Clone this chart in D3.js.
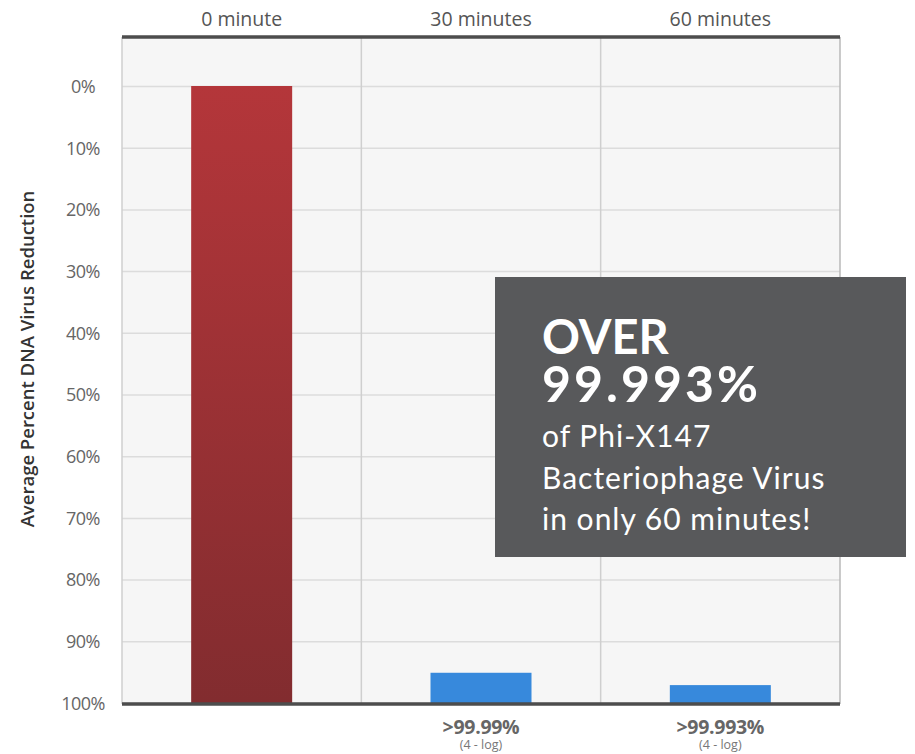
<!DOCTYPE html>
<html>
<head>
<meta charset="utf-8">
<script src="https://cdn.jsdelivr.net/npm/d3@7"></script>
<style>
  body { margin: 0; background: #fff; }
  text { font-family: "Open Sans", sans-serif; }
</style>
</head>
<body>
<svg id="chart" width="915" height="754"></svg>
<script>
// data
var categories = ["0 minute", "30 minutes", "60 minutes"];
var barTop = [0, 95.1, 97.1];               // where each bar starts on the reduction axis (%)
var barColors = ["red", "blue", "blue"];
var bottomLabels = ["", ">99.99%", ">99.993%"];
var bottomSubLabels = ["", "(4 - log)", "(4 - log)"];
var yTicks = [0, 10, 20, 30, 40, 50, 60, 70, 80, 90, 100];
var calloutLines = ["OVER", "99.993%"];
var calloutSub = ["of Phi-X147", "Bacteriophage Virus", "in only 60 minutes!"];

var margin = {top: 37, right: 75, bottom: 50, left: 122},
    width = 915 - margin.left - margin.right,
    height = 704 - margin.top;

var svg = d3.select("#chart");

var x = d3.scaleBand()
    .domain(categories)
    .range([margin.left, margin.left + width])
    .padding(0);

var y = d3.scaleLinear()
    .domain([0, 100])
    .range([86, 703]);

var barWidth = 101;

var defs = svg.append("defs");
var redGrad = defs.append("linearGradient")
    .attr("id", "redGrad")
    .attr("x1", 0).attr("y1", 0).attr("x2", 0).attr("y2", 1);
redGrad.append("stop").attr("offset", "0%").attr("stop-color", "#b4363a");
redGrad.append("stop").attr("offset", "100%").attr("stop-color", "#822c2f");

var fills = {red: "url(#redGrad)", blue: "#3789dc"};

// plot background
svg.append("rect")
    .attr("x", margin.left)
    .attr("y", margin.top)
    .attr("width", width)
    .attr("height", height)
    .attr("fill", "#f6f6f6");

// horizontal grid
svg.append("g")
    .attr("class", "grid")
  .selectAll("line")
    .data(yTicks)
  .enter().append("line")
    .attr("x1", margin.left)
    .attr("x2", margin.left + width)
    .attr("y1", function(d) { return y(d) + 0.5; })
    .attr("y2", function(d) { return y(d) + 0.5; })
    .attr("stroke", "#dcdcdc")
    .attr("stroke-width", 1.5);

// vertical column separators
svg.append("g")
  .selectAll("line")
    .data(categories.slice(1))
  .enter().append("line")
    .attr("x1", function(d) { return x(d); })
    .attr("x2", function(d) { return x(d); })
    .attr("y1", margin.top)
    .attr("y2", margin.top + height)
    .attr("stroke", "#cfcfcf")
    .attr("stroke-width", 1.5);

// left / right borders
svg.append("line")
    .attr("x1", margin.left).attr("x2", margin.left)
    .attr("y1", margin.top).attr("y2", margin.top + height)
    .attr("stroke", "#cfcfcf").attr("stroke-width", 1.5);
svg.append("line")
    .attr("x1", margin.left + width).attr("x2", margin.left + width)
    .attr("y1", margin.top).attr("y2", margin.top + height)
    .attr("stroke", "#b8b8b8").attr("stroke-width", 1.5);

// bars
svg.append("g")
  .selectAll("rect")
    .data(categories)
  .enter().append("rect")
    .attr("x", function(d) { return x(d) + x.bandwidth() / 2 - barWidth / 2; })
    .attr("y", function(d, i) { return y(barTop[i]); })
    .attr("width", barWidth)
    .attr("height", function(d, i) { return y(100) - y(barTop[i]); })
    .attr("fill", function(d, i) { return fills[barColors[i]]; });

// top and bottom heavy rules
svg.append("line")
    .attr("x1", margin.left).attr("x2", margin.left + width)
    .attr("y1", margin.top).attr("y2", margin.top)
    .attr("stroke", "#4d4d4d").attr("stroke-width", 3.5);
svg.append("line")
    .attr("x1", margin.left).attr("x2", margin.left + width)
    .attr("y1", 704).attr("y2", 704)
    .attr("stroke", "#4d4d4d").attr("stroke-width", 3.5);

// top axis (category names)
var xAxis = d3.axisTop(x).tickSize(0).tickPadding(0);
var gx = svg.append("g")
    .attr("transform", "translate(0,26)")
    .call(xAxis);
gx.select(".domain").remove();
gx.selectAll("text")
    .attr("dy", 0)
    .style("font-family", "'Open Sans', sans-serif")
    .style("font-size", "19.5px")
    .attr("fill", "#555");

// left axis (percent)
var yAxis = d3.axisLeft(y)
    .tickValues(yTicks)
    .tickSize(0)
    .tickFormat(function(d) { return d + "%"; });
var gy = svg.append("g")
    .attr("transform", "translate(83,0)")
    .call(yAxis);
gy.select(".domain").remove();
gy.selectAll("text")
    .attr("x", 0)
    .attr("text-anchor", "middle")
    .attr("dy", "0.35em")
    .style("font-family", "'Open Sans', sans-serif")
    .style("font-size", "18px")
    .style("letter-spacing", "-0.5px")
    .attr("fill", "#666");

// y axis title
svg.append("text")
    .attr("transform", "translate(34,359) rotate(-90)")
    .attr("text-anchor", "middle")
    .style("font-size", "18.5px")
    .style("font-weight", 600)
    .attr("fill", "#333")
    .text("Average Percent DNA Virus Reduction");

// bottom value labels (value + log note in one text block)
var bl = svg.append("g")
  .selectAll("text")
    .data(categories.filter(function(d, i) { return bottomLabels[i]; }))
  .enter().append("text")
    .attr("text-anchor", "middle")
    .attr("fill", "#666");
bl.append("tspan")
    .attr("x", function(d) { return x(d) + x.bandwidth() / 2; })
    .attr("y", 734)
    .style("font-size", "19.5px")
    .style("font-weight", 700)
    .style("letter-spacing", "-0.3px")
    .text(function(d) { return bottomLabels[categories.indexOf(d)]; });
bl.append("tspan")
    .attr("x", function(d) { return x(d) + x.bandwidth() / 2; })
    .attr("y", 749)
    .style("font-size", "12.5px")
    .attr("fill", "#777")
    .text(function(d) { return bottomSubLabels[categories.indexOf(d)]; });

// callout box
var callout = svg.append("g");
callout.append("rect")
    .attr("x", 495)
    .attr("y", 277)
    .attr("width", 411)
    .attr("height", 280)
    .attr("fill", "#58595b");
callout.append("text")
    .style("font-family", "Lato, sans-serif")
    .style("font-weight", 700)
    .attr("fill", "#fff")
  .selectAll("tspan")
    .data(calloutLines)
  .enter().append("tspan")
    .attr("x", 542)
    .attr("y", function(d, i) { return 354 + i * 48; })
    .style("font-size", function(d, i) { return i ? "50px" : "47px"; })
    .style("letter-spacing", function(d, i) { return i ? "3px" : "0px"; })
    .text(function(d) { return d; });
callout.append("text")
    .style("font-family", "Lato, sans-serif")
    .style("font-size", "30px")
    .style("letter-spacing", "1px")
    .attr("fill", "#fff")
  .selectAll("tspan")
    .data(calloutSub)
  .enter().append("tspan")
    .attr("x", 542)
    .attr("y", function(d, i) { return 447 + i * 41.5; })
    .text(function(d) { return d; });
</script>
</body>
</html>
